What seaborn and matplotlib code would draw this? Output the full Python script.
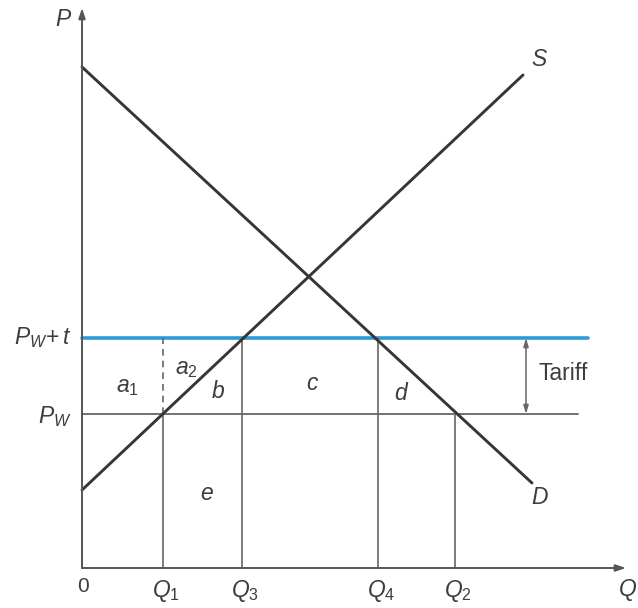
import matplotlib
matplotlib.use("Agg")
import matplotlib.pyplot as plt
import seaborn as sns

# curve end points (quantity, price)
demand_q = [0.0, 45.0]
demand_p = [50.1, 8.5]
supply_q = [0.0, 44.1]
supply_p = [7.8, 49.3]

# prices
p_world = 15.4
p_tariff = 23.0

# quantities
q_names = ["Q_1", "Q_3", "Q_4", "Q_2"]
q_vals = [8.1, 16.0, 29.6, 37.3]

area_labels = ["a_1", "a_2", "b", "c", "d", "e"]
area_x = [4.5, 10.4, 13.6, 23.1, 32.0, 12.5]
area_y = [18.2, 19.9, 17.7, 18.5, 17.4, 7.5]

sns.set_style("white")
plt.rcParams["font.family"] = ["Liberation Sans", "DejaVu Sans"]
plt.rcParams["mathtext.fontset"] = "custom"
plt.rcParams["mathtext.it"] = "Liberation Sans:italic"
plt.rcParams["mathtext.rm"] = "Liberation Sans"

fig = plt.figure(figsize=(6.38, 6.08), dpi=100)
ax = fig.add_axes([0, 0, 1, 1])
ax.set_xlim(-8.2, 55.6)
ax.set_ylim(-4.0, 56.8)
ax.axis("off")

axis_col = "#555555"
line_col = "#363636"
thin_col = "#666666"
blue = "#2b9bd8"
tc = "#3d3d3d"
fs = 16.5

# axes with arrows
ax.annotate("", xy=(0, 56.0), xytext=(0, 0),
            arrowprops=dict(arrowstyle="-|>,head_length=0.6,head_width=0.2",
                            color=axis_col, lw=1.4, shrinkA=0, shrinkB=0))
ax.annotate("", xy=(54.4, 0), xytext=(0, 0),
            arrowprops=dict(arrowstyle="-|>,head_length=0.6,head_width=0.2",
                            color=axis_col, lw=1.4, shrinkA=0, shrinkB=0))

# world price and tariff price lines
sns.lineplot(x=[0, 49.6], y=[p_world, p_world], ax=ax, color=thin_col, lw=1.3)
sns.lineplot(x=[0, 50.6], y=[p_tariff, p_tariff], ax=ax, color=blue, lw=2.6)

# vertical guides
ax.vlines(q_vals[0], 0, p_world, color=thin_col, lw=1.2)
ax.vlines(q_vals[0], p_world, p_tariff, color=thin_col, lw=1.2, linestyles=(0, (4, 3)))
ax.vlines(q_vals[1], 0, p_tariff, color=thin_col, lw=1.2)
ax.vlines(q_vals[2], 0, p_tariff, color=thin_col, lw=1.2)
ax.vlines(q_vals[3], 0, p_world, color=thin_col, lw=1.2)

# supply and demand
sns.lineplot(x=supply_q, y=supply_p, ax=ax, color=line_col, lw=2.1)
sns.lineplot(x=demand_q, y=demand_p, ax=ax, color=line_col, lw=2.1)

# tariff arrow
ax.annotate("", xy=(44.4, p_tariff), xytext=(44.4, p_world),
            arrowprops=dict(arrowstyle="<|-|>,head_length=0.5,head_width=0.15",
                            color=thin_col, lw=1.1, shrinkA=0, shrinkB=0))
ax.text(45.6, (p_world + p_tariff) / 2 + 0.2, "Tariff", fontsize=fs, color=tc,
        ha="left", va="center")

# labels
ax.text(-1.8, 54.9, "$P$", fontsize=fs, color=tc, ha="center", va="center")
ax.text(54.6, -2.2, "$Q$", fontsize=fs, color=tc, ha="center", va="center")
ax.text(0.1, -1.8, "0", fontsize=fs - 1.5, color=tc, ha="center", va="center")
for name, q in zip(q_names, q_vals):
    ax.text(q + 0.3, -2.3, f"${name}$", fontsize=fs, color=tc, ha="center", va="center")
ax.text(-1.0, p_tariff, r"$P_W\!+t$", fontsize=fs, color=tc, ha="right", va="center")
ax.text(-1.0, p_world - 0.3, r"$P_W$", fontsize=fs, color=tc, ha="right", va="center")
for lab, x, y in zip(area_labels, area_x, area_y):
    ax.text(x, y, f"${lab}$", fontsize=fs, color=tc, ha="center", va="center")
ax.text(45.8, 7.1, "$D$", fontsize=fs, color=tc, ha="center", va="center")
ax.text(45.8, 50.8, "$S$", fontsize=fs, color=tc, ha="center", va="center")

fig.savefig("out.png", dpi=100)
